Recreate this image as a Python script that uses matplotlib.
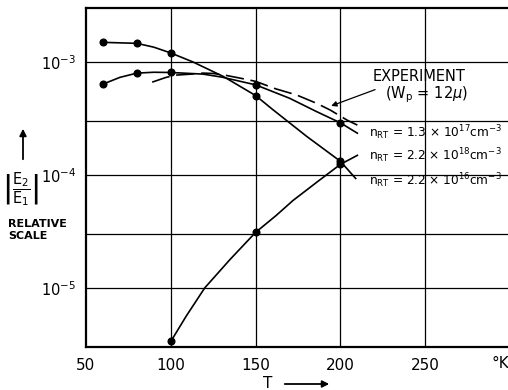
import matplotlib.pyplot as plt

# traced curves (T in K, |E2/E1| relative)
t_lo = [60, 80, 90, 100, 113, 131, 150, 160, 180, 200, 209]
v_lo = [1.49e-3, 1.46e-3, 1.35e-3, 1.20e-3, 1.0e-3, 7.43e-4, 5.04e-4, 3.8e-4, 2.2e-4, 1.32e-4, 9.3e-5]
pt_lo = [60, 80, 100, 150, 200]
pv_lo = [1.49e-3, 1.46e-3, 1.20e-3, 5.04e-4, 1.32e-4]

t_mid = [60, 70, 80, 90, 100, 119, 130, 150, 170, 186, 200, 210]
v_mid = [6.36e-4, 7.3e-4, 7.96e-4, 8.1e-4, 8.06e-4, 7.8e-4, 7.34e-4, 6.27e-4, 4.77e-4, 3.63e-4, 2.89e-4, 2.34e-4]
pt_mid = [60, 80, 100, 150, 200]
pv_mid = [6.36e-4, 7.96e-4, 8.06e-4, 6.27e-4, 2.89e-4]

t_hi = [100, 109, 120, 135, 150, 162, 172, 186, 200, 210]
v_hi = [3.36e-6, 5.6e-6, 1.0e-5, 1.79e-5, 3.10e-5, 4.36e-5, 5.93e-5, 8.6e-5, 1.24e-4, 1.49e-4]
pt_hi = [100, 150, 200]
pv_hi = [3.36e-6, 3.10e-5, 1.24e-4]

t_exp = [89, 97, 103, 112, 119, 125, 133, 142, 150, 162, 174, 186, 194, 204, 210]
v_exp = [6.62e-4, 7.28e-4, 7.64e-4, 7.80e-4, 7.96e-4, 7.9e-4, 7.58e-4, 7.13e-4, 6.73e-4,
         5.77e-4, 5.11e-4, 4.3e-4, 3.75e-4, 3.05e-4, 2.76e-4]

x_ticks = [50, 100, 150, 200, 250]
y_ticks = [1e-5, 1e-4, 1e-3]
y_labels = [r'10$^{-5}$', r'10$^{-4}$', r'10$^{-3}$']
y_grid = [3e-5, 3e-4]

fig = plt.figure(figsize=(5.08, 3.9), dpi=100)
ax = fig.add_axes([86/508, 43/390, 424/508, 339/390])
ax.set_yscale('log')
ax.set_xlim(50, 300)
ax.set_ylim(3e-6, 3e-3)

for x in x_ticks[1:]:
    ax.axvline(x, color='black', lw=0.9, zorder=1)
for y in y_ticks + y_grid:
    ax.axhline(y, color='black', lw=0.9, zorder=1)

for t, v in [(t_lo, v_lo), (t_mid, v_mid), (t_hi, v_hi)]:
    ax.plot(t, v, color='black', lw=1.2, zorder=3)
for t, v in [(pt_lo, pv_lo), (pt_mid, pv_mid), (pt_hi, pv_hi)]:
    ax.plot(t, v, 'o', color='black', ms=4.8, zorder=4)
ax.plot(t_exp, v_exp, color='black', lw=1.2, dashes=(11, 4), zorder=3)

ax.set_xticks(x_ticks)
ax.set_xticklabels([str(x) for x in x_ticks], fontsize=11)
ax.set_yticks(y_ticks)
ax.set_yticklabels(y_labels, fontsize=10.5)
ax.minorticks_off()
ax.tick_params(length=0, pad=8)
ax.tick_params(axis='y', pad=7)
for s in ax.spines.values():
    s.set_linewidth(1.6)

fig.text(500/508, 1 - 363/390, '°K', fontsize=11, ha='center', va='center')

ax.text(246.5, 7.4e-4, 'EXPERIMENT', fontsize=10.5, ha='center', va='center')
ax.text(251, 5.1e-4, r'(W$_{\rm p}$ = 12$\mu$)', fontsize=10.5, ha='center', va='center')
ax.annotate('', xy=(193, 4.0e-4), xytext=(222, 5.8e-4),
            arrowprops=dict(arrowstyle='-|>', color='black', lw=0.9, mutation_scale=8))
labels = [(2.35e-4, '1.3', '17'), (1.49e-4, '2.2', '18'), (8.9e-5, '2.2', '16')]
for y, a, e in labels:
    ax.text(217, y, r'n$_{\rm RT}$ = %s $\times$ 10$^{%s}$cm$^{-3}$' % (a, e),
            fontsize=8.7, ha='left', va='center')

# y label block
ax.annotate('', xy=(23/508, 1 - 126/390), xytext=(23/508, 1 - 162/390),
            xycoords='figure fraction', textcoords='figure fraction', annotation_clip=False,
            arrowprops=dict(arrowstyle='-|>', color='black', lw=1.3, mutation_scale=10))
fig.text(21/508, 1 - 189/390, r'$\left|\dfrac{\mathrm{E}_2}{\mathrm{E}_1}\right|$', fontsize=10.5,
         ha='center', va='center')
fig.text(8/508, 1 - 230/390, 'RELATIVE\nSCALE', fontsize=8, fontweight='bold',
         ha='left', va='center', linespacing=1.2)

# x label
fig.text(268/508, 1 - 384/390, 'T', fontsize=11, ha='center', va='center')
ax.annotate('', xy=(332/508, 1 - 384/390), xytext=(282/508, 1 - 384/390),
            xycoords='figure fraction', textcoords='figure fraction', annotation_clip=False,
            arrowprops=dict(arrowstyle='-|>', color='black', lw=1.3, mutation_scale=10))

fig.savefig('out.png', dpi=100)
